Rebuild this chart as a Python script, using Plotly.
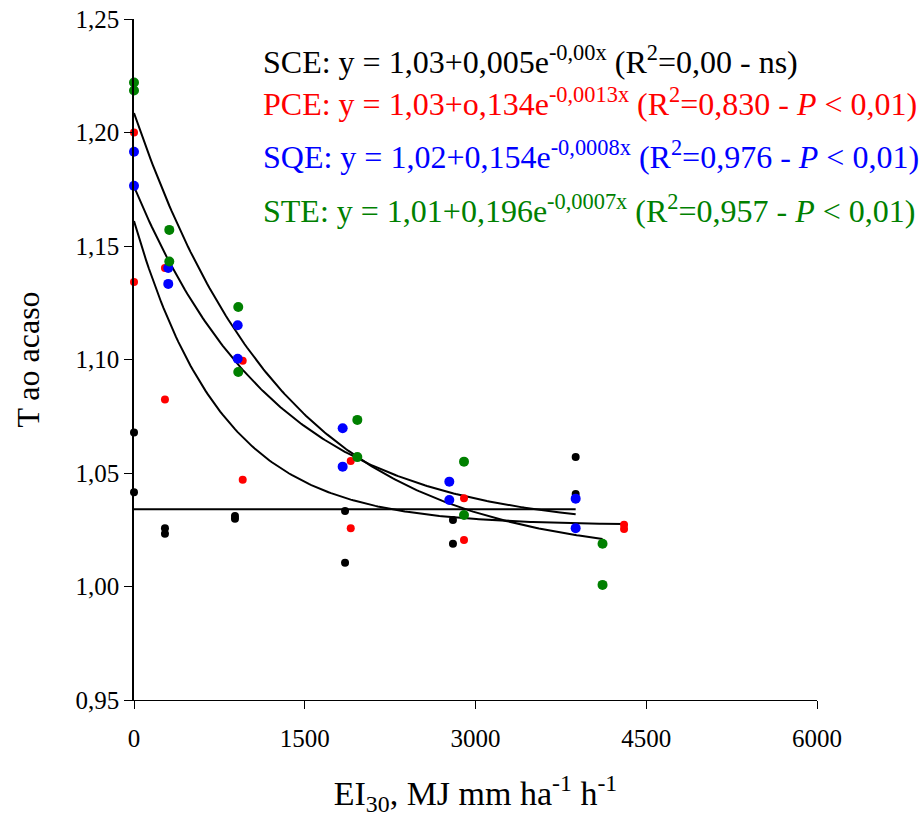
import numpy as np
import plotly.graph_objects as go

sce_x = [0, 0, 272, 272, 887, 887, 1854, 1854, 2802, 2802, 3880, 3880]
sce_y = [1.0678, 1.0415, 1.0257, 1.0232, 1.0311, 1.0298, 1.0333, 1.0105, 1.0293, 1.0188, 1.0571, 1.0408]

pce_x = [0, 0, 272, 272, 955, 955, 1904, 1904, 2899, 2899, 4305, 4305]
pce_y = [1.2000, 1.1341, 1.1403, 1.0824, 1.0995, 1.0470, 1.0553, 1.0257, 1.0389, 1.0205, 1.0272, 1.0253]

sqe_x = [0, 0, 301, 301, 911, 911, 1833, 1833, 2770, 2770, 3880, 3880]
sqe_y = [1.1915, 1.1765, 1.1403, 1.1333, 1.1151, 1.1003, 1.0697, 1.0528, 1.0462, 1.0381, 1.0387, 1.0257]

ste_x = [0, 0, 310, 310, 916, 916, 1962, 1962, 2899, 2899, 4116, 4116]
ste_y = [1.2220, 1.2185, 1.1571, 1.1432, 1.1231, 1.0945, 1.0734, 1.0570, 1.0550, 1.0315, 1.0188, 1.0007]

# fitted model y = a + b*exp(-c*x), drawn up to x_max (parameters as drawn)
fit_a = [1.034, 1.027, 1.025, 1.012]
fit_b = [0.0, 0.134, 0.1512, 0.1966]
fit_c = [0.0, 0.0013, 0.0008, 0.000751]
fit_xmax = [3880, 4305, 3880, 4116]

y_tickvals = [0.95, 1.00, 1.05, 1.10, 1.15, 1.20, 1.25]
y_ticktext = ["0,95", "1,00", "1,05", "1,10", "1,15", "1,20", "1,25"]
x_tickvals = [0, 1500, 3000, 4500, 6000]
x_ticktext = ["0", "1500", "3000", "4500", "6000"]

eq_texts = [
    "SCE: y = 1,03+0,005e<sup>-0,00x</sup> (R<sup>2</sup>=0,00 - ns)",
    "PCE: y = 1,03+o,134e<sup>-0,0013x</sup> (R<sup>2</sup>=0,830 - <i>P</i> &lt; 0,01)",
    "SQE: y = 1,02+0,154e<sup>-0,0008x</sup> (R<sup>2</sup>=0,976 - <i>P</i> &lt; 0,01)",
    "STE: y = 1,01+0,196e<sup>-0,0007x</sup> (R<sup>2</sup>=0,957 - <i>P</i> &lt; 0,01)",
]
colors = ["#000000", "#FF0000", "#0000FF", "#008000"]
sizes = [8, 8, 10, 10]
FONT = "Liberation Serif, Times New Roman, serif"

fig = go.Figure()

# fitted curves
for a, b, c, xm in zip(fit_a, fit_b, fit_c, fit_xmax):
    xx = np.linspace(0, xm, 200)
    yy = a + b * np.exp(-c * xx)
    fig.add_trace(go.Scatter(x=xx, y=yy, mode="lines",
                             line=dict(color="black", width=2),
                             hoverinfo="skip", showlegend=False))

# data points
for xs, ys, col, sz in zip([sce_x, pce_x, sqe_x, ste_x], [sce_y, pce_y, sqe_y, ste_y], colors, sizes):
    fig.add_trace(go.Scatter(x=xs, y=ys, mode="markers",
                             marker=dict(color=col, size=sz),
                             showlegend=False, cliponaxis=False))

ann_y = [0.940, 0.878, 0.801, 0.721]
for txt, col, yy in zip(eq_texts, colors, ann_y):
    fig.add_annotation(text=txt, xref="paper", yref="paper", x=0.186, y=yy,
                       xanchor="left", yanchor="middle", showarrow=False,
                       font=dict(family=FONT, size=32, color=col))

fig.update_layout(
    width=921, height=817,
    margin=dict(l=134, r=104, t=19, b=117, autoexpand=False),
    plot_bgcolor="white", paper_bgcolor="white",
    font=dict(family=FONT, color="black"),
    showlegend=False,
)
fig.update_xaxes(range=[0, 6000], tickvals=x_tickvals, ticktext=x_ticktext,
                 automargin=False,
                 showgrid=False, zeroline=False, showline=True, linecolor="black", linewidth=1,
                 ticks="outside", ticklen=8, tickcolor="black", ticklabelstandoff=8,
                 ticklabeloverflow="allow",
                 tickfont=dict(family=FONT, size=25),
                 title=dict(text="EI<sub>30</sub>, MJ mm ha<sup>-1</sup> h<sup>-1</sup>",
                            font=dict(family=FONT, size=34), standoff=30))
fig.update_yaxes(range=[0.95, 1.25], tickvals=y_tickvals, ticktext=y_ticktext,
                 automargin=False,
                 showgrid=False, zeroline=False, showline=True, linecolor="black", linewidth=1.5,
                 ticks="outside", ticklen=8, tickcolor="black", ticklabeloverflow="allow",
                 tickfont=dict(family=FONT, size=25),
                 title=dict(text="T ao acaso", font=dict(family=FONT, size=32), standoff=26))

fig.write_html("out.html", config={"displayModeBar": False},
               post_script="document.body.style.margin='0';")
